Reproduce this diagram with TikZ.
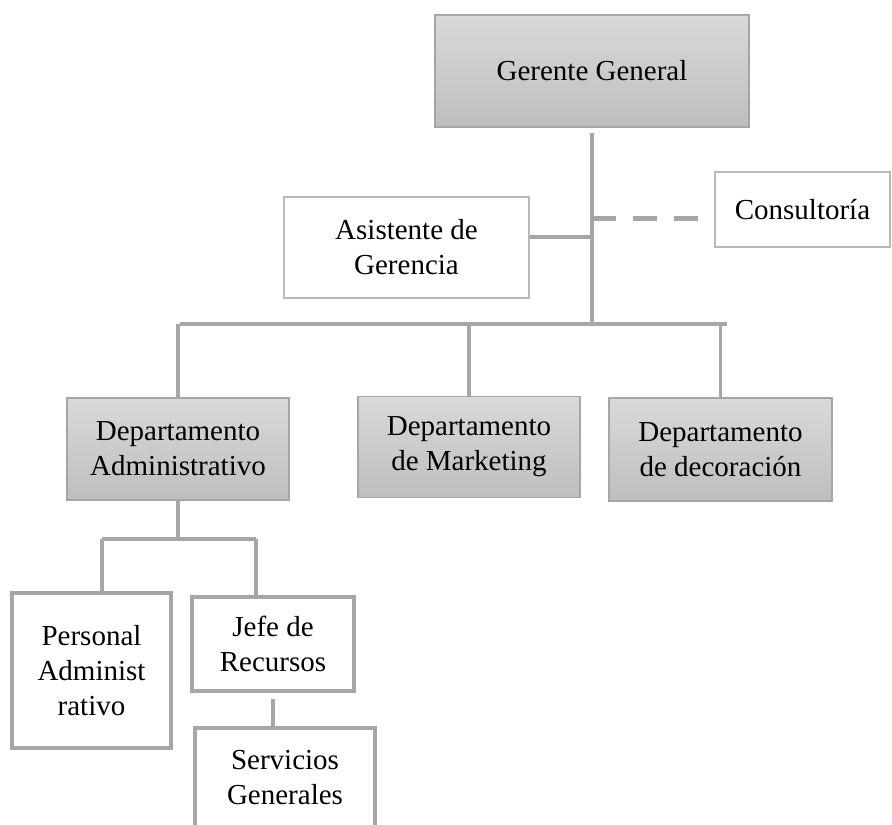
\documentclass[tikz,border=0pt]{standalone}
\usepackage{fontspec}
\setmainfont{Liberation Serif}
\usepackage{tikz}
\usetikzlibrary{shapes, arrows, calc}
\definecolor{linegray}{RGB}{166,166,166}
\definecolor{edgegray}{RGB}{185,185,185}
\definecolor{filltop}{RGB}{217,217,217}
\definecolor{fillbot}{RGB}{190,190,190}

\begin{document}
\begin{tikzpicture}[x=1pt,y=1pt,yscale=-1,xscale=1,
        every node/.style={font=\fontsize{29}{35}\selectfont, align=center, inner sep=0pt},
        graybox/.style={draw=linegray, line width=1.5, top color=filltop, bottom color=fillbot},
        whitebox/.style={draw=edgegray, line width=2, fill=white},
        heavybox/.style={draw=linegray, line width=4, fill=white},
        link/.style={draw=linegray, line width=3.5},
        dashlink/.style={draw=linegray, line width=5, dash pattern=on 24pt off 17pt}]

        \useasboundingbox (0,0) rectangle (892,825);

        \node [graybox, minimum width=314, minimum height=112] (gerente) at (592,71) {Gerente General};
        \node [whitebox, minimum width=245, minimum height=101] (asistente) at (406.5,247.5) {Asistente de\\Gerencia};
        \node [whitebox, minimum width=175, minimum height=75] (consultoria) at (802.5,209.5) {Consultoría};

        \node [graybox, minimum width=222, minimum height=102] (admin) at (178,449) {Departamento\\Administrativo};
        \node [graybox, minimum width=222, minimum height=101] (marketing) at (469,447) {Departamento\\de Marketing};
        \node [graybox, minimum width=223, minimum height=103] (decoracion) at (720.5,449.5) {Departamento\\de decoración};

        \node [heavybox, minimum width=159, minimum height=155] (personal) at (91.5,670.5) {Personal\\Administ\\rativo};
        \node [heavybox, minimum width=162, minimum height=94] (jefe) at (273,644) {Jefe de\\Recursos};
        \node [heavybox, minimum width=180, minimum height=100] (servicios) at (285,778) {Servicios\\Generales};

        \coordinate (bus-l) at (180,324);
        \coordinate (bus-r) at (727,324);
        \coordinate (sub-l) at (102,539);
        \coordinate (sub-r) at (256,539);
        \coordinate (asist-link) at ($(asistente.east)+(0,-10.5)$);
        \coordinate (consult-link) at ($(consultoria.west)+(-14,8.5)$);

        \draw [link, shorten <=5pt] (gerente.south) -- (gerente.south |- bus-l);
        \draw [link] (asist-link) -- (asist-link -| gerente.south);
        \draw [dashlink] (consult-link -| gerente.south) -- (consult-link);

        \draw [link] (bus-l) -- (bus-r);
        \foreach \dept in {admin,marketing,decoracion}
            \draw [link] (\dept.north |- bus-l) -- (\dept.north);

        \draw [link] (admin.south) -- (admin.south |- sub-l);
        \draw [link] (sub-l) -- (sub-r);
        \draw [link] (sub-l) -- (sub-l |- personal.north);
        \draw [link] (sub-r) -- (sub-r |- jefe.north);
        \draw [link, shorten <=6pt] (jefe.south) -- (jefe.south |- servicios.north);
    \end{tikzpicture}
\end{document}
